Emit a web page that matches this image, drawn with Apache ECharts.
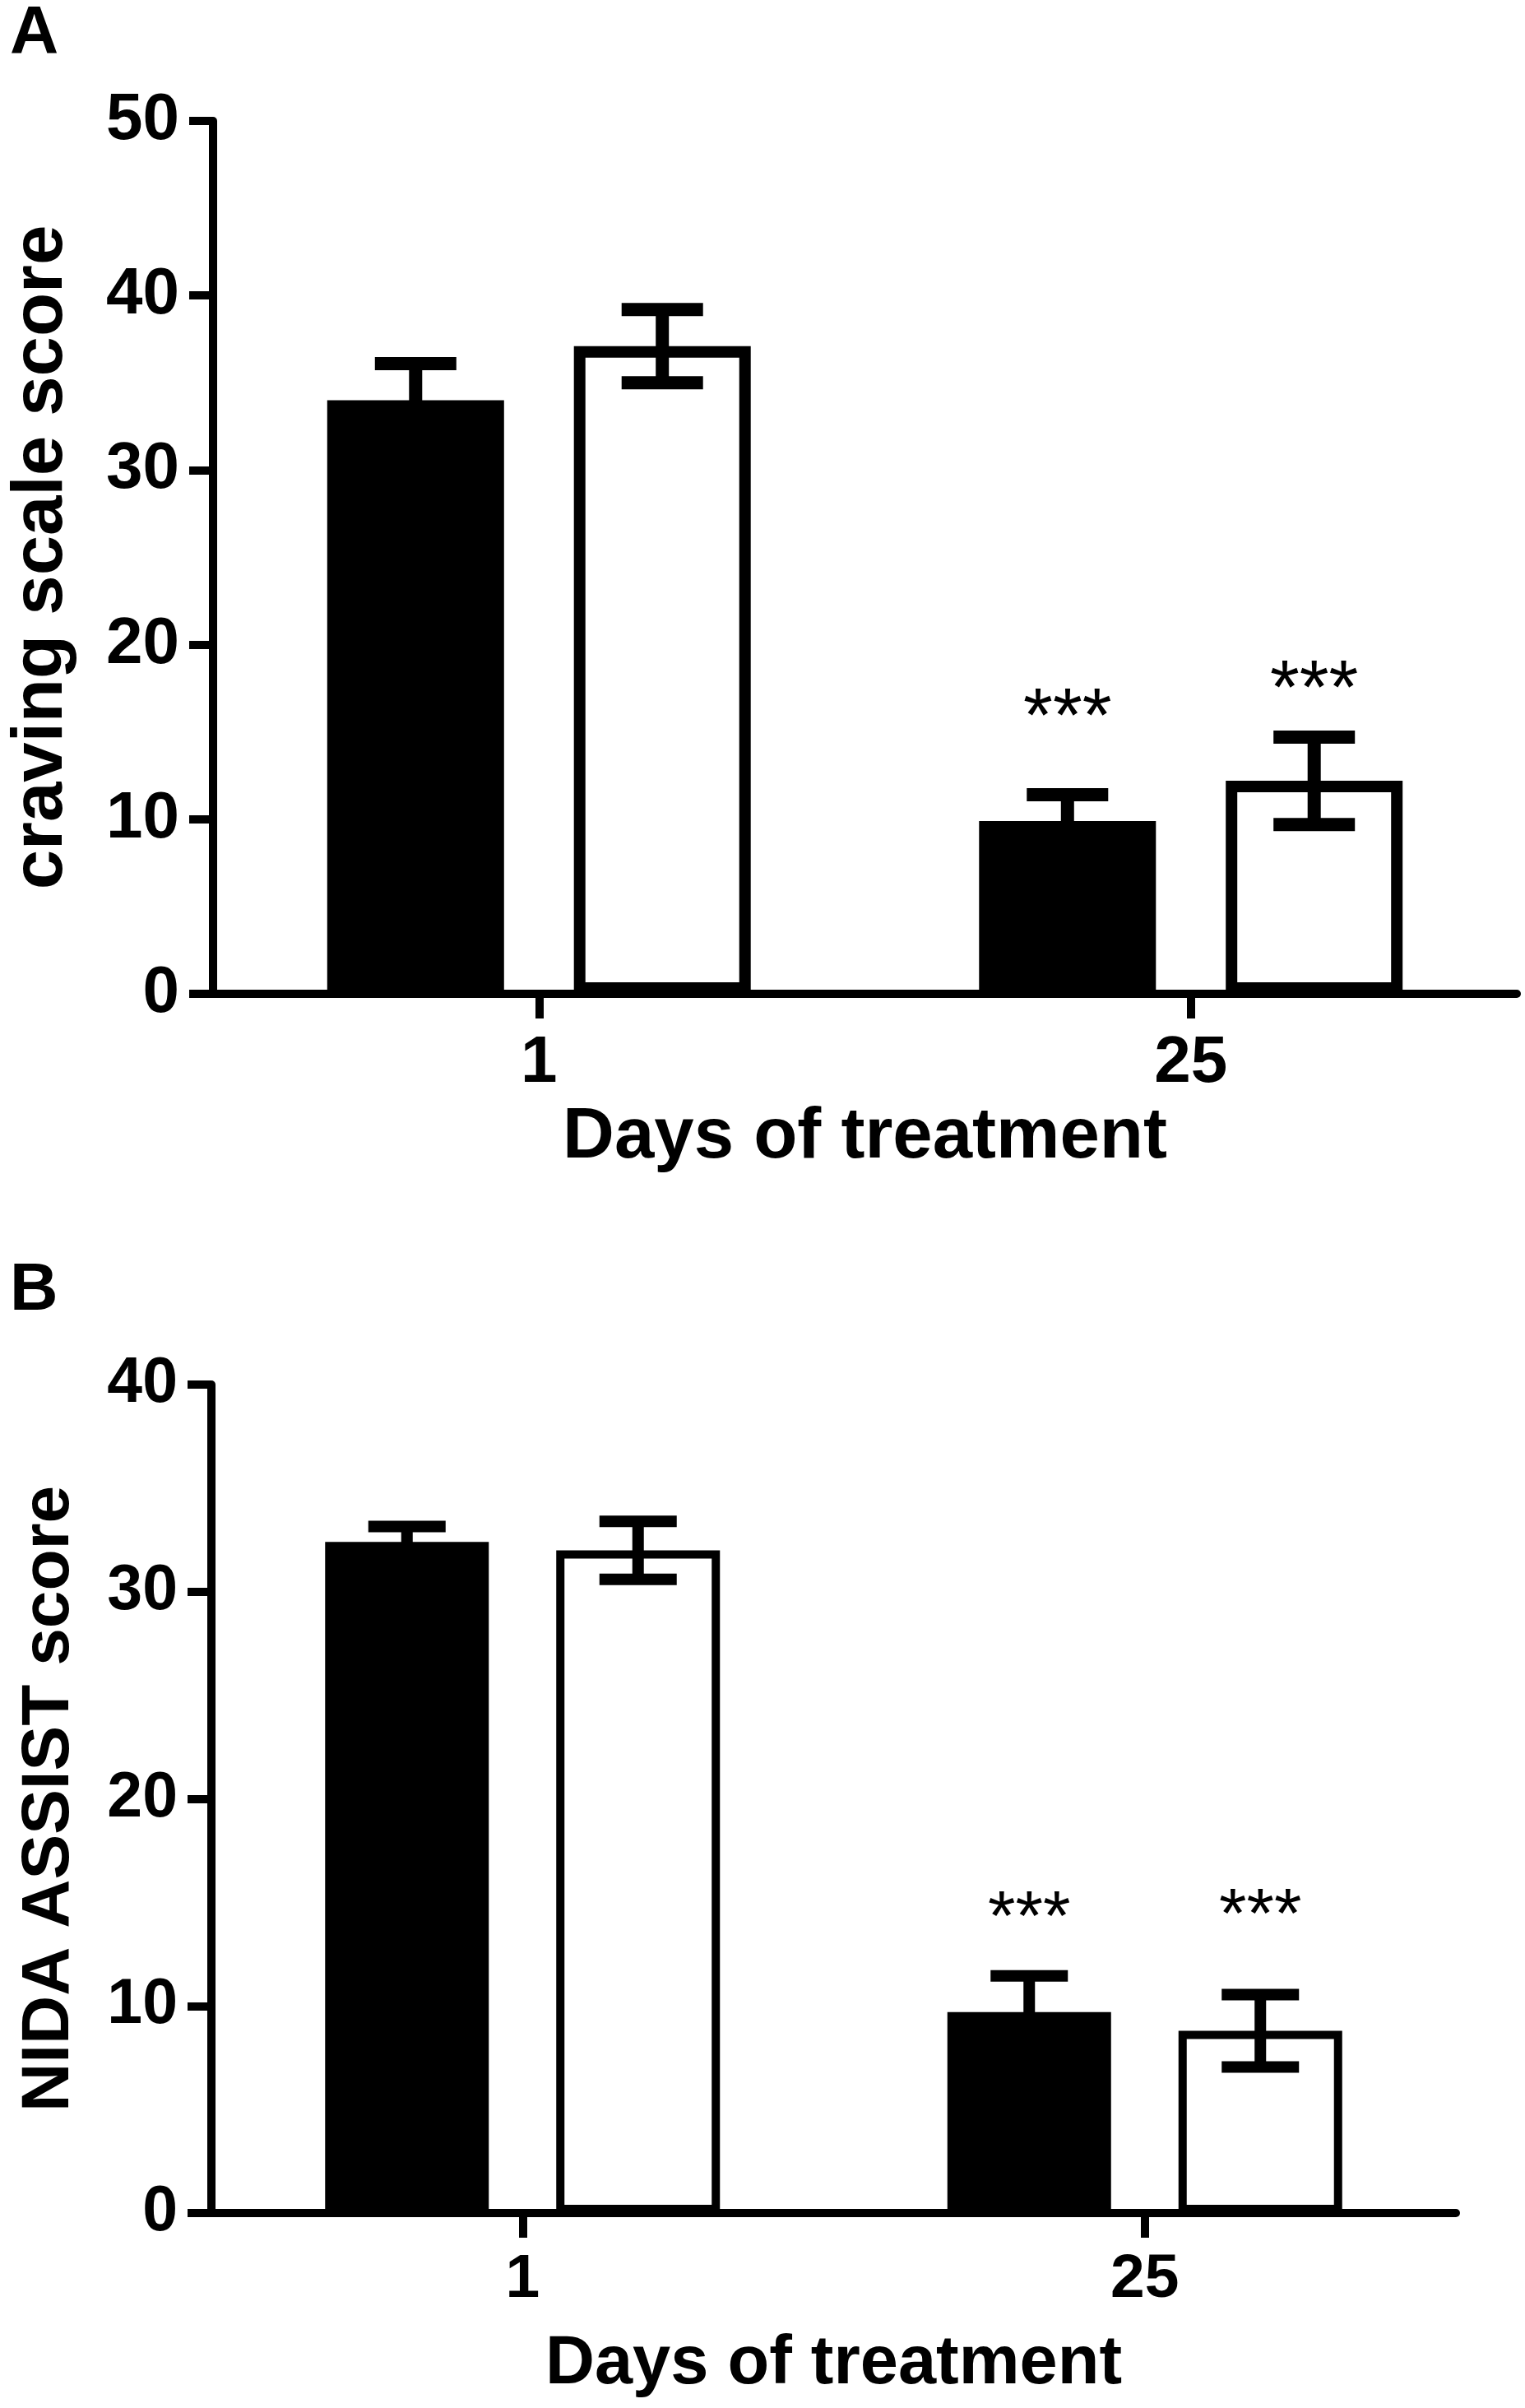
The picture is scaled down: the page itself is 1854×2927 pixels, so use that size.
<!DOCTYPE html>
<html>
<head>
<meta charset="utf-8">
<title>craving / NIDA ASSIST</title>
<script src="https://cdn.jsdelivr.net/npm/echarts@6/dist/echarts.min.js"></script>
<style>
  html, body { margin: 0; padding: 0; background: #fff; }
  #main { width: 1854px; height: 2927px; }
</style>
</head>
<body>
<div id="main"></div>
<script>
// 横轴类别
var days = ['1', '25'];

// A: craving scale score (黑柱 / 白柱, 均值与误差)
var cravingBlack = [34.0, 9.9];
var cravingBlackErr = [2.1, 1.5];
var cravingWhite = [37.1, 12.2];
var cravingWhiteErr = [2.1, 2.5];
var cravingBlackStar = [null, 16.6];
var cravingWhiteStar = [null, 18.2];
var cravingMax = 50;

// B: NIDA ASSIST score
var assistBlack = [32.4, 9.7];
var assistBlackErr = [0.75, 1.75];
var assistWhite = [32.0, 8.8];
var assistWhiteErr = [1.4, 1.75];
var assistBlackStar = [null, 14.9];
var assistWhiteStar = [null, 15.0];
var assistMax = 40;

var tickStep = 10;
var FONT = '"Liberation Sans", Arial, Helvetica, sans-serif';

// 误差线数据: [类别, 均值, 误差, 星号位置]
function errData(mean, err, star) {
	var out = [];
	for (var i = 0; i < mean.length; i++) {
		out.push([i, mean[i], err[i], star[i] == null ? '-' : star[i]]);
	}
	return out;
}

/**
 * 误差线 + 显著性星号
 */
function errRender(side, barW, gapRatio, capW, lw, starSize) {
	return function (params, api) {
		var cat = api.value(0), mean = api.value(1), err = api.value(2), star = api.value(3);
		var mid = api.coord([cat, mean]);
		var x = mid[0] + side * (barW + barW * gapRatio) / 2;
		var yTop = api.coord([cat, mean + err])[1];
		var yBot = api.coord([cat, mean - err])[1];
		var st = { stroke: '#000', lineWidth: lw, lineCap: 'butt' };
		var children = [
			{ type: 'line', shape: { x1: x, y1: yTop, x2: x, y2: yBot }, style: st },
			{ type: 'line', shape: { x1: x - capW / 2, y1: yTop, x2: x + capW / 2, y2: yTop }, style: st },
			{ type: 'line', shape: { x1: x - capW / 2, y1: yBot, x2: x + capW / 2, y2: yBot }, style: st }
		];
		if (!isNaN(star)) {
			var ys = api.coord([cat, star])[1];
			children.push({
				type: 'text',
				style: {
					text: '***', x: x, y: ys + starSize * 0.22,
					align: 'center', verticalAlign: 'middle',
					font: 'normal ' + starSize + 'px ' + FONT, fill: '#000'
				}
			});
		}
		return { type: 'group', children: children };
	};
}

function yAxisOf(gridIndex, max, name, labelSize, nameSize, nameGap) {
	return {
		type: 'value', gridIndex: gridIndex, min: 0, max: max, interval: tickStep,
		name: name, nameLocation: 'middle', nameGap: nameGap,
		nameTextStyle: { fontFamily: FONT, fontWeight: 'bold', fontSize: nameSize, color: '#000' },
		axisLine: { show: true, lineStyle: { color: '#000', width: 10 } },
		axisTick: { show: true, length: 29, lineStyle: { color: '#000', width: 10 } },
		axisLabel: { margin: 41, fontFamily: FONT, fontWeight: 'bold', fontSize: labelSize, color: '#000' },
		splitLine: { show: false }
	};
}

function xAxisOf(gridIndex, labelSize, labelMargin, nameSize, nameGap) {
	return {
		type: 'category', gridIndex: gridIndex, data: days, boundaryGap: true,
		name: 'Days of treatment', nameLocation: 'middle', nameGap: nameGap,
		nameTextStyle: { fontFamily: FONT, fontWeight: 'bold', fontSize: nameSize, color: '#000' },
		axisLine: { show: true, lineStyle: { color: '#000', width: 10 } },
		axisTick: { show: true, alignWithLabel: true, length: 30, lineStyle: { color: '#000', width: 10 } },
		axisLabel: { margin: labelMargin, fontFamily: FONT, fontWeight: 'bold', fontSize: labelSize, color: '#000' }
	};
}

function barSeries(idx, data, fill, barW, gapRatio, bw) {
	return {
		type: 'bar', xAxisIndex: idx, yAxisIndex: idx, data: data,
		barWidth: barW, barGap: (gapRatio * 100) + '%',
		itemStyle: { color: fill, borderColor: '#000', borderWidth: bw },
		emphasis: { disabled: true }, silent: true, z: 2
	};
}

function errSeries(idx, side, data, barW, gapRatio, capW, lw, starSize) {
	return {
		type: 'custom', xAxisIndex: idx, yAxisIndex: idx, data: data,
		renderItem: errRender(side, barW, gapRatio, capW, lw, starSize),
		silent: true, z: 3
	};
}

var chart = echarts.init(document.getElementById('main'), null, { renderer: 'canvas' });

// 柱宽含边框 (ECharts 把边框收进柱内)
var A = { w: 215, gap: 0.395, cap: 99, lw: 16, bw: 14, star: 92 };
var B = { w: 199, gap: 0.412, cap: 94, lw: 14, bw: 10, star: 86 };

var option = {
	backgroundColor: '#fff',
	animation: false,
	grid: [
		{ left: 249, top: 147, width: 1595, height: 1061 },
		{ left: 257, top: 1683, width: 1513, height: 1007 }
	],
	xAxis: [
		xAxisOf(0, 80, 45, 87, 132),
		xAxisOf(1, 75, 44, 83, 143)
	],
	yAxis: [
		yAxisOf(0, cravingMax, 'craving scale score', 80, 87, 164),
		yAxisOf(1, assistMax, 'NIDA ASSIST score', 77, 82, 156)
	],
	graphic: [
		{ type: 'text', left: 12, top: 0, style: { text: 'A', font: 'bold 82px ' + FONT, fill: '#000' } },
		{ type: 'text', left: 12, top: 1529, style: { text: 'B', font: 'bold 81px ' + FONT, fill: '#000' } }
	],
	series: [
		barSeries(0, cravingBlack, '#000', A.w, A.gap, A.bw),
		barSeries(0, cravingWhite, '#fff', A.w, A.gap, A.bw),
		errSeries(0, -1, errData(cravingBlack, cravingBlackErr, cravingBlackStar), A.w, A.gap, A.cap, A.lw, A.star),
		errSeries(0, 1, errData(cravingWhite, cravingWhiteErr, cravingWhiteStar), A.w, A.gap, A.cap, A.lw, A.star),

		barSeries(1, assistBlack, '#000', B.w, B.gap, B.bw),
		barSeries(1, assistWhite, '#fff', B.w, B.gap, B.bw),
		errSeries(1, -1, errData(assistBlack, assistBlackErr, assistBlackStar), B.w, B.gap, B.cap, B.lw, B.star),
		errSeries(1, 1, errData(assistWhite, assistWhiteErr, assistWhiteStar), B.w, B.gap, B.cap, B.lw, B.star)
	]
};

chart.setOption(option);
</script>
</body>
</html>
